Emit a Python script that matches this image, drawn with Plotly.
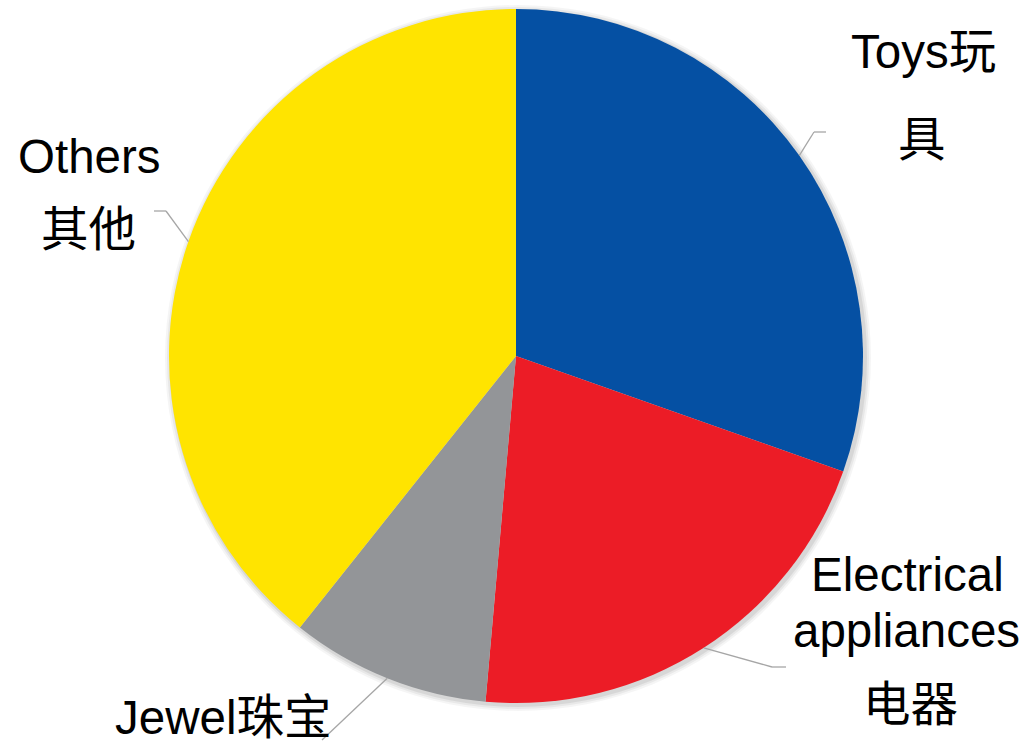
import math
import plotly.graph_objects as go

# ---- data ----
labels = ["Toys玩具", "Electrical appliances电器", "Jewel珠宝", "Others其他"]
values = [30.4, 21.0, 9.3, 39.3]
colors = ["#0550A3", "#EC1C26", "#939598", "#FFE400"]

W, H = 1026, 745
CX, CY, R = 516, 356, 347  # pie centre / radius in pixels


def px2paper(px, py):
    return px / W, 1 - py / H


fig = go.Figure()

# faint shadow behind the pie
for dr, op in [(6, 0.04), (4, 0.05), (2, 0.07)]:
    fig.add_shape(type="circle", xref="paper", yref="paper",
                  x0=(CX - R - dr + 2) / W, x1=(CX + R + dr + 2) / W,
                  y0=1 - (CY + R + dr + 2) / H, y1=1 - (CY - R - dr + 2) / H,
                  line=dict(width=0), fillcolor=f"rgba(0,0,0,{op})", layer="below")

fig.add_trace(go.Pie(
    labels=labels, values=values, sort=False, direction="clockwise", rotation=0,
    marker=dict(colors=colors, line=dict(width=0)),
    textinfo="none", hoverinfo="label+value", showlegend=False,
    domain=dict(x=[(CX - R) / W, (CX + R) / W], y=[1 - (CY + R) / H, 1 - (CY - R) / H]),
))

FONT = "Liberation Sans, Arial, Noto Sans CJK SC, sans-serif"

# label text lines: (text, px x, px y)
label_lines = [
    ("Toys玩", 923, 52), ("具", 922, 140),
    ("Electrical", 907, 574), ("appliances", 906, 630), ("电器", 910, 704),
    ("Jewel珠宝", 223, 717),
    ("Others", 89, 156), ("其他", 88, 229),
]
for t, px, py in label_lines:
    x, y = px2paper(px, py)
    fig.add_annotation(text=t, x=x, y=y, xref="paper", yref="paper",
                       showarrow=False, xanchor="center", yanchor="middle",
                       font=dict(family=FONT, size=47.5, color="black"))

# leader lines: start at each slice's mid-angle on the rim
elbows = [((814, 132), (826, 132)),
          ((772, 667), (786, 667)),
          ((322, 740), None),
          ((166, 211), (154, 211))]
total = sum(values)
cum = 0
for v, (e1, e2) in zip(values, elbows):
    mid = (cum + v / 2) / total * 2 * math.pi
    cum += v
    sx = CX + R * math.sin(mid)
    sy = CY - R * math.cos(mid)
    pts = [(sx, sy), e1] + ([e2] if e2 else [])
    for (ax, ay), (bx, by) in zip(pts[:-1], pts[1:]):
        x0, y0 = px2paper(ax, ay)
        x1, y1 = px2paper(bx, by)
        fig.add_shape(type="line", xref="paper", yref="paper",
                      x0=x0, y0=y0, x1=x1, y1=y1,
                      line=dict(color="#A6A6A6", width=1.3))

fig.update_layout(width=W, height=H, margin=dict(l=0, r=0, t=0, b=0),
                  paper_bgcolor="white", plot_bgcolor="white")
fig.write_html("out.html", config={"displayModeBar": False},
               post_script="document.body.style.margin='0';document.body.style.overflow='hidden';")
